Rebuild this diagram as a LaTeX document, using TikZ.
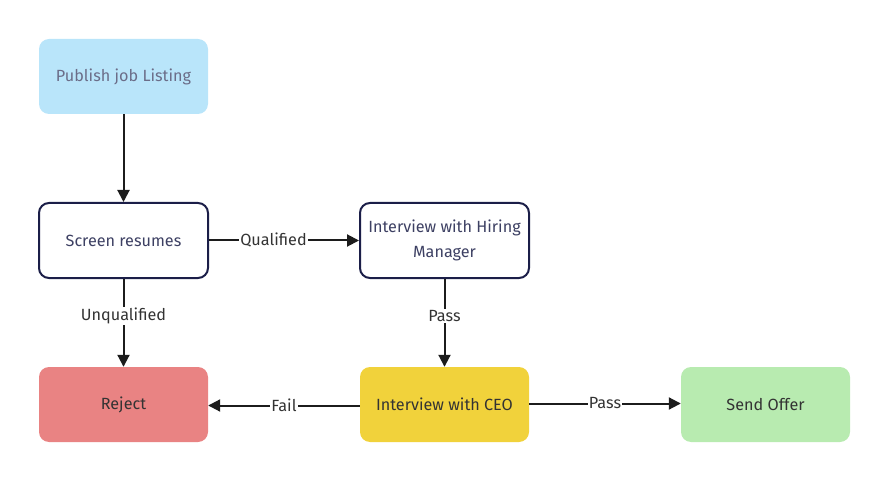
\documentclass[tikz,border=0pt]{standalone}
\usepackage{fontspec}
\setmainfont{Fira Sans}
\usepackage{xcolor}
\usetikzlibrary{arrows.meta}

\definecolor{boxblue}{HTML}{B9E5FA}
\definecolor{boxred}{HTML}{E98383}
\definecolor{boxyellow}{HTML}{F1D23B}
\definecolor{boxgreen}{HTML}{B8EBB0}
\definecolor{navy}{HTML}{1B1E48}
\definecolor{ink}{HTML}{1C1C1C}

\tikzset{
	card/.style={rectangle, rounded corners=10pt, minimum width=169pt,
		minimum height=75pt, align=center, font=\fontsize{16.2}{25}\selectfont},
	outline/.style={card, draw=navy, line width=2pt, fill=white, text=navy!85},
	flow/.style={draw=ink, line width=2pt, -{Triangle[length=12pt,width=12pt]}},
	tag/.style={fill=white, inner sep=1pt, text=ink!90,
		font=\fontsize{16.2}{18}\selectfont}
}

\begin{document}
\begin{tikzpicture}[x=1pt,y=-1pt]
			%\draw[help lines] (0,0) grid (889,481);
			\useasboundingbox (0,0) rectangle (889,481);
			
				\node[card, fill=boxblue, text=navy!65] (publish) at (123.5,76.5) {Publish job Listing};
				\node[outline] (screen) at (123.5,240.5) {Screen resumes};
				\node[outline] (hiring) at (444.5,240.5) {Interview with Hiring\\Manager};
				
				\node[card, fill=boxred, text=ink!90] (reject) at (123.5,404.5) {Reject};
				\node[card, fill=boxyellow, text=ink!90] (ceo) at (444.5,404.5) {Interview with CEO};
				\node[card, fill=boxgreen, text=ink!90] (offer) at (765.5,404.5) {Send Offer};
				
				\draw[flow] (publish) -- (screen);
				\draw[flow] (screen) -- node[tag, pos=0.43] {Qualified} (hiring);
				\draw[flow] (screen) -- node[tag, pos=0.42] {Unqualified} (reject);
				\draw[flow] (hiring) -- node[tag, pos=0.42] {Pass} (ceo);
				
				\draw[flow] ([yshift=-1pt]ceo.west) -- node[tag] {Fail} ([yshift=-1pt]reject.east);
				\draw[flow] ([yshift=1pt]ceo.east) -- node[tag] {Pass} ([yshift=1pt]offer.west);
			
			\end{tikzpicture}
\end{document}
